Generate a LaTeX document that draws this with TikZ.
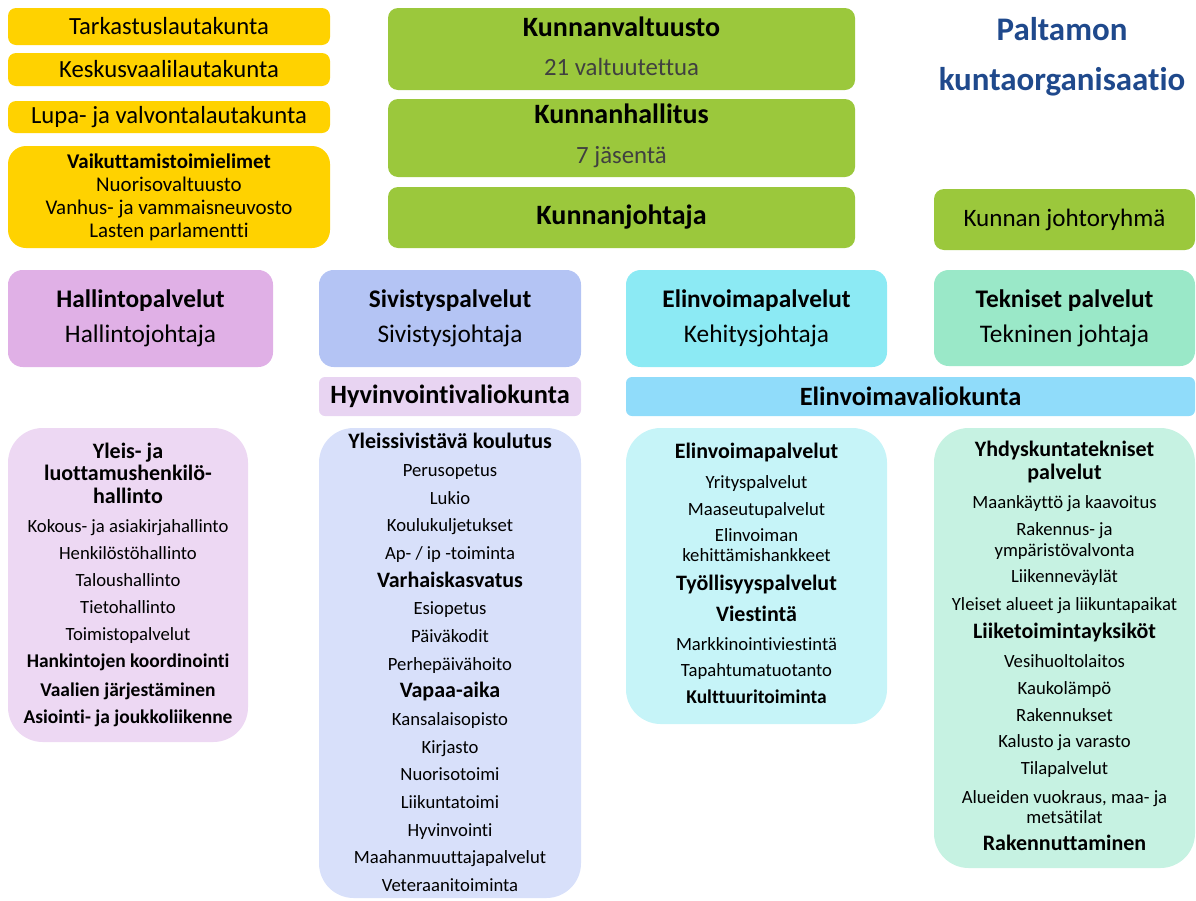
\documentclass[tikz,border=0pt]{standalone}
\usepackage{fontspec}
\setmainfont{Carlito}[Ligatures={NoCommon,NoContextual}]

\definecolor{keltainen}{RGB}{255,210,0}
\definecolor{vihrea}{RGB}{155,200,60}
\definecolor{otsikkosininen}{RGB}{31,73,140}
\definecolor{harmaa}{RGB}{64,64,64}
\definecolor{hallinto}{RGB}{224,176,230}
\definecolor{sivistys}{RGB}{180,196,244}
\definecolor{elinvoima}{RGB}{140,234,244}
\definecolor{tekninen}{RGB}{154,232,200}
\definecolor{hyvinvointi}{RGB}{232,212,242}
\definecolor{elinvoimavk}{RGB}{144,220,250}
\definecolor{hallintovaalea}{RGB}{237,216,243}
\definecolor{sivistysvaalea}{RGB}{216,224,250}
\definecolor{elinvoimavaalea}{RGB}{198,244,248}
\definecolor{teknvaalea}{RGB}{198,242,226}

\newcommand{\otsake}[1]{{\fontsize{16.5}{20.25}\selectfont\bfseries #1}}

\tikzset{
  koko/.style 2 args={minimum width=#1*0.75pt, minimum height=#2*0.75pt},
  laatikko/.style={rectangle, inner sep=0pt, align=center},
  lautakunta/.style={laatikko, fill=keltainen, rounded corners=6pt, font=\fontsize{18.5}{22}\selectfont},
  paattaja/.style={laatikko, fill=vihrea, rounded corners=7.5pt},
  palvelu/.style={laatikko, rounded corners=11pt, font=\fontsize{19}{26.25}\selectfont},
  valiokunta/.style={laatikko, rounded corners=4.5pt, font=\fontsize{19.8}{24}\selectfont\bfseries},
  lista/.style={laatikko, rounded corners=26pt},
  listateksti/.style={inner sep=0pt, align=center, anchor=north, font=\fontsize{14}{20.25}\selectfont},
}

\begin{document}
\begin{tikzpicture}[x=0.75pt,y=0.75pt,yscale=-1]
\useasboundingbox (0,0) rectangle (1196,900);

% lautakunnat
\node[lautakunta, koko={322}{37}] (tarkastus) at (169,26.5) {\raisebox{-1.5pt}{Tarkastuslautakunta}};
\node[lautakunta, koko={322}{33}] (keskusvaali) at (169,69.5) {\raisebox{-1pt}{Keskusvaalilautakunta}};
\node[lautakunta, koko={322}{32}] (lupa) at (169,117) {\raisebox{-1pt}{Lupa- ja valvontalautakunta}};
\node[lautakunta, koko={322}{102}, rounded corners=13.5pt, font=\fontsize{15.7}{17.25}\selectfont] (vaikuttamis) at (169,197)
  {\textbf{Vaikuttamistoimielimet}\\Nuorisovaltuusto\\Vanhus- ja vammaisneuvosto\\Lasten parlamentti};

% valtuusto, hallitus, johtaja
\node[paattaja, koko={467}{82}, font=\fontsize{18.6}{29.5}\selectfont] (valtuusto) at (621.5,49)
  {{\fontsize{21}{29.5}\selectfont\bfseries Kunnanvaltuusto}\\{\color{harmaa}21 valtuutettua}\rule[-4.5pt]{0pt}{0pt}};
\node[paattaja, koko={467}{78}, font=\fontsize{18.6}{29.5}\selectfont] (hallitus) at (621.5,138)
  {{\fontsize{21}{29.5}\selectfont\bfseries Kunnanhallitus}\\{\color{harmaa}7 jäsentä}\rule[-6.5pt]{0pt}{0pt}};
\node[paattaja, koko={467}{61}, font=\fontsize{21}{26}\selectfont\bfseries] (johtaja) at (621.5,217.5) {Kunnanjohtaja};

% otsikko ja johtoryhma
\node[laatikko, text=otsikkosininen, font=\fontsize{24.7}{37.5}\selectfont\bfseries] (otsikko) at (1062,56.5) {Paltamon\\kuntaorganisaatio};
\node[paattaja, koko={261}{61}, font=\fontsize{18.8}{24}\selectfont] (johtoryhma) at (1064.5,219.5) {Kunnan johtoryhmä};

% palvelualueet
\node[palvelu, fill=hallinto, koko={265}{97}] (hallintopalv) at (140.5,318.5) {\textbf{Hallintopalvelut}\\Hallintojohtaja};
\node[palvelu, fill=sivistys, koko={262}{97}] (sivistyspalv) at (450,318.5) {\textbf{Sivistyspalvelut}\\Sivistysjohtaja};
\node[palvelu, fill=elinvoima, koko={261}{97}] (elinvoimapalv) at (756.5,318.5) {\textbf{Elinvoimapalvelut}\\Kehitysjohtaja};
\node[palvelu, fill=tekninen, koko={261}{96}] (teknpalv) at (1064.5,318) {\textbf{Tekniset palvelut}\\Tekninen johtaja};

% valiokunnat
\node[valiokunta, fill=hyvinvointi, koko={262}{39}] (hyvinvointivk) at (450,396.5) {Hyvinvointivaliokunta};
\node[valiokunta, fill=elinvoimavk, koko={569}{39}] (elinvoimavk) at (910.5,396.5) {Elinvoimavaliokunta};

% tehtavat
\node[lista, fill=hallintovaalea, koko={240}{314}] (hallintolista) at (128,585) {};
\node[listateksti] (hallintoteksti) at (128,443)
  {\otsake{Yleis- ja}\\[-3.75pt]\otsake{luottamushenkilö-}\\[-3pt]\otsake{hallinto}\\[1.5pt]
   Kokous- ja asiakirjahallinto\\Henkilöstöhallinto\\Taloushallinto\\Tietohallinto\\Toimistopalvelut\\
   {\fontsize{14.6}{20}\selectfont\bfseries Hankintojen koordinointi}\\[1.5pt]
   {\fontsize{14.6}{20}\selectfont\bfseries Vaalien järjestäminen}\\
   {\fontsize{14.6}{20}\selectfont\bfseries Asiointi- ja joukkoliikenne}};

\node[lista, fill=sivistysvaalea, koko={262}{470}] (sivistyslista) at (450,663) {};
\node[listateksti, font=\fontsize{14}{20.75}\selectfont] (sivistysteksti) at (450,433)
  {\otsake{Yleissivistävä koulutus}\\Perusopetus\\Lukio\\Koulukuljetukset\\Ap- / ip -toiminta\\
   \otsake{Varhaiskasvatus}\\Esiopetus\\Päiväkodit\\Perhepäivähoito\\
   \otsake{Vapaa-aika}\\Kansalaisopisto\\Kirjasto\\Nuorisotoimi\\Liikuntatoimi\\Hyvinvointi\\
   Maahanmuuttajapalvelut\\Veteraanitoiminta};

\node[lista, fill=elinvoimavaalea, koko={261}{296}] (elinvoimalista) at (756.5,576) {};
\node[listateksti] (elinvoimateksti) at (756.5,443)
  {\otsake{Elinvoimapalvelut}\\[2.25pt]Yrityspalvelut\\Maaseutupalvelut\\[-0.75pt]Elinvoiman\\[-5.25pt]
   kehittämishankkeet\\[1.5pt]\otsake{Työllisyyspalvelut}\\[3pt]\otsake{Viestintä}\\[1.5pt]
   Markkinointiviestintä\\[-0.75pt]Tapahtumatuotanto\\
   {\fontsize{14.6}{20}\selectfont\bfseries Kulttuuritoiminta}};

\node[lista, fill=teknvaalea, koko={261}{440}] (teknlista) at (1064.5,648) {};
\node[listateksti] (teknteksti) at (1064.5,441)
  {\otsake{Yhdyskuntatekniset}\\[-3pt]\otsake{palvelut}\\[1.5pt]Maankäyttö ja kaavoitus\\
   Rakennus- ja\\[-4.5pt]ympäristövalvonta\\[-0.75pt]Liikenneväylät\\[0.75pt]
   Yleiset alueet ja liikuntapaikat\\[0.75pt]\otsake{Liiketoimintayksiköt}\\[1.5pt]
   Vesihuoltolaitos\\Kaukolämpö\\Rakennukset\\[-0.75pt]Kalusto ja varasto\\Tilapalvelut\\[1.5pt]
   Alueiden vuokraus, maa- ja\\[-5.25pt]metsätilat\\\otsake{Rakennuttaminen}};

\end{tikzpicture}
\end{document}
